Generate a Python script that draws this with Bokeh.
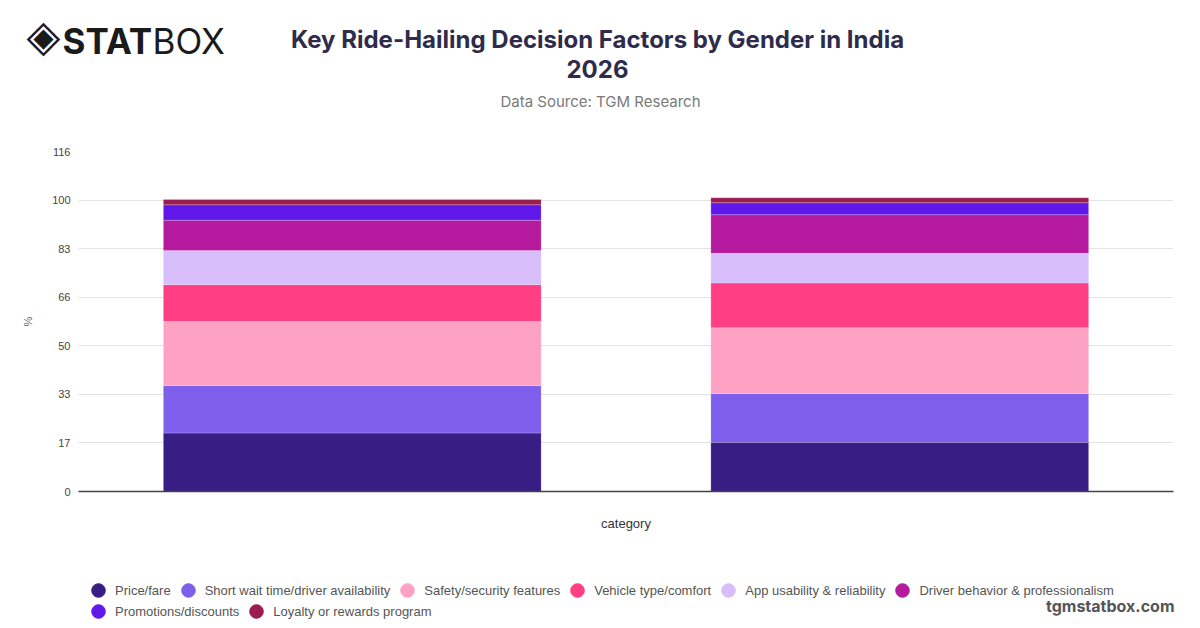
from bokeh.plotting import figure
from bokeh.layouts import column
from bokeh.models import Range1d, FactorRange, FixedTicker, Label, Legend, LegendItem, ColumnDataSource
from bokeh.embed import file_html
from bokeh.resources import INLINE

# ---------------- data ----------------
categories = ["Male", "Female"]
factors = [
    "Price/fare",
    "Short wait time/driver availability",
    "Safety/security features",
    "Vehicle type/comfort",
    "App usability & reliability",
    "Driver behavior & professionalism",
    "Promotions/discounts",
    "Loyalty or rewards program",
]
price_fare = [20.0, 16.8]
short_wait = [16.2, 16.7]
safety = [21.9, 22.5]
vehicle = [12.6, 15.3]
app_usability = [11.7, 10.1]
driver_behavior = [10.3, 13.2]
promotions = [5.3, 4.1]
loyalty = [1.8, 1.7]
series = [price_fare, short_wait, safety, vehicle, app_usability,
          driver_behavior, promotions, loyalty]
colors = ["#381d84", "#7e5fec", "#fda2c3", "#ff3e83", "#d7bdf9",
          "#b5199d", "#6018ea", "#9a1c50"]
y_ticks = [0, 16.6, 33.2, 49.8, 66.4, 83.0, 99.6, 116.2]
y_tick_labels = ["0", "17", "33", "50", "66", "83", "100", "116"]

title_text = "Key Ride-Hailing Decision Factors by Gender in India"
title_year = "2026"
subtitle_text = "Data Source: TGM Research"
site_text = "tgmstatbox.com"

W = 1192
H_HEAD, H_MAIN, H_FOOT = 120, 440, 66


def blank_fig(h):
    f = figure(width=W, height=h, x_range=Range1d(0, 1), y_range=Range1d(0, 1),
               x_axis_type=None, y_axis_type=None, output_backend="svg",
               toolbar_location=None, min_border=0)
    f.outline_line_color = None
    f.xgrid.visible = False
    f.ygrid.visible = False
    return f


# ---------------- header ----------------
head = blank_fig(H_HEAD)


def hy(page_y):
    return H_HEAD - page_y


head.add_layout(Label(x=597, y=hy(39), x_units="screen", y_units="screen", text=title_text,
                      text_font="Inter", text_font_style="bold", text_font_size="24px",
                      text_color="#2f2c4b", text_align="center", text_baseline="alphabetic"))
head.add_layout(Label(x=597, y=hy(68), x_units="screen", y_units="screen", text=title_year,
                      text_font="Inter", text_font_style="bold", text_font_size="24px",
                      text_color="#2f2c4b", text_align="center", text_baseline="alphabetic"))
head.add_layout(Label(x=600, y=hy(101), x_units="screen", y_units="screen", text=subtitle_text,
                      text_font="Inter", text_font_size="15px",
                      text_color="#7a7a7a", text_align="center", text_baseline="alphabetic"))
head.add_layout(Label(x=26, y=hy(35), x_units="screen", y_units="screen", text="\u25c8",
                      text_font="DejaVu Sans", text_font_size="44px",
                      text_color="#1a1a1a", text_align="left", text_baseline="middle"))
head.add_layout(Label(x=62, y=hy(40), x_units="screen", y_units="screen", text="STAT",
                      text_font="Inter", text_font_style="bold", text_font_size="35px",
                      text_color="#1a1a1a", text_align="left", text_baseline="alphabetic"))
head.add_layout(Label(x=152, y=hy(40), x_units="screen", y_units="screen", text="BOX",
                      text_font="Inter", text_font_size="35px",
                      text_color="#1a1a1a", text_align="left", text_baseline="alphabetic"))

# ---------------- main chart ----------------
FL, FR = 78, W - 1173
FT, FB = 151 - H_HEAD, (H_HEAD + H_MAIN) - 491

p = figure(width=W, height=H_MAIN, x_range=FactorRange(factors=categories, range_padding=0),
           y_range=Range1d(0, y_ticks[-1]), output_backend="svg", toolbar_location=None,
           min_border_left=FL, min_border_right=FR, min_border_top=FT, min_border_bottom=FB)
p.outline_line_color = None

keys = ["s%d" % i for i in range(len(series))]
data = {"cat": categories}
for k, s in zip(keys, series):
    data[k] = s
src = ColumnDataSource(data)
p.vbar_stack(keys, x="cat", width=0.69, source=src, color=colors,
             line_color="white", line_alpha=0.35, line_width=0.6)

p.xgrid.grid_line_color = None
p.ygrid.grid_line_color = "#e3e3e3"
p.ygrid.grid_line_width = 1
p.yaxis.ticker = FixedTicker(ticks=y_ticks)
p.yaxis.major_label_overrides = {t: l for t, l in zip(y_ticks, y_tick_labels)}
p.yaxis.axis_line_color = None
p.yaxis.major_tick_line_color = None
p.yaxis.minor_tick_line_color = None
p.yaxis.major_tick_out = 0
p.yaxis.major_tick_in = 0
p.yaxis.major_label_standoff = 8
p.yaxis.major_label_text_font = "Liberation Sans"
p.yaxis.major_label_text_font_size = "11px"
p.yaxis.major_label_text_color = "#444444"
p.yaxis.axis_label = "%"
p.yaxis.axis_label_text_font = "Liberation Sans"
p.yaxis.axis_label_text_font_size = "11px"
p.yaxis.axis_label_text_font_style = "normal"
p.yaxis.axis_label_text_color = "#666666"
p.yaxis.axis_label_standoff = 15

p.xaxis.axis_line_color = "#444444"
p.xaxis.axis_line_width = 1.5
p.xaxis.major_tick_line_color = None
p.xaxis.minor_tick_line_color = None
p.xaxis.major_tick_out = 0
p.xaxis.major_tick_in = 0
p.xaxis.major_label_text_color = None
p.xaxis.major_label_standoff = 0
p.xaxis.axis_label = "category"
p.xaxis.axis_label_text_font = "Liberation Sans"
p.xaxis.axis_label_text_font_size = "13px"
p.xaxis.axis_label_text_font_style = "normal"
p.xaxis.axis_label_text_color = "#333333"
p.xaxis.axis_label_standoff = 24

# ---------------- footer: legend + site ----------------
foot = blank_fig(H_FOOT)
FOOT_TOP = H_HEAD + H_MAIN


def fy(page_y):
    return (FOOT_TOP + H_FOOT) - page_y


# legend proxies: one invisible point each, placed outside the footer's visible range
items = []
for name, c in zip(factors, colors):
    r = foot.scatter(x=[-5], y=[-5], marker="circle", size=10, fill_color=c, line_color=c)
    items.append(LegendItem(label=name, renderers=[r]))

GS = 34


def make_legend(its, page_cx, page_cy):
    return Legend(items=its, orientation="horizontal",
                  location=(page_cx - GS / 2, fy(page_cy + GS / 2)),
                  glyph_width=GS, glyph_height=GS, label_standoff=0, spacing=0,
                  padding=0, margin=0, border_line_color=None, background_fill_alpha=0,
                  label_text_font="Liberation Sans", label_text_font_size="13px",
                  label_text_color="#555555")


foot.add_layout(make_legend(items[:6], 98, 590))
foot.add_layout(make_legend(items[6:], 98, 611))
foot.add_layout(Label(x=1174, y=fy(605), x_units="screen", y_units="screen", text=site_text,
                      text_font="Inter", text_font_style="bold", text_font_size="16px",
                      text_color="#555555", text_align="right", text_baseline="alphabetic"))

layout = column(column(head), column(p), column(foot), spacing=0)
open("out.html", "w").write(file_html(layout, INLINE))
